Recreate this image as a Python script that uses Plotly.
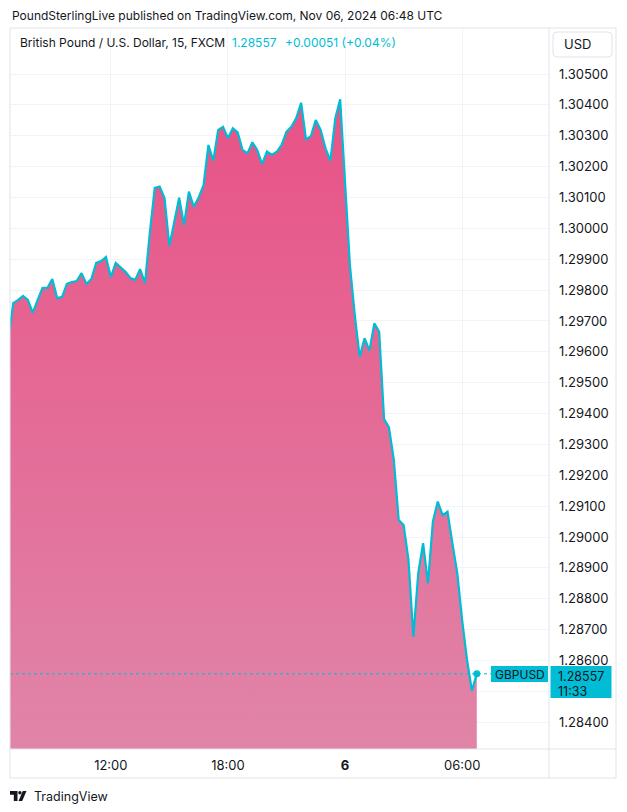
import plotly.graph_objects as go
import pandas as pd

# ---- data ----
prices = [
    1.29643,
    1.29758, 1.29768, 1.29781, 1.29768, 1.29727, 1.29768, 1.29807, 1.29807, 1.29836, 1.29774,
    1.29778, 1.29820, 1.29826, 1.29829, 1.29855, 1.29820, 1.29836, 1.29888, 1.29894, 1.29907,
    1.29842, 1.29888, 1.29875, 1.29859, 1.29839, 1.29833, 1.29868, 1.29823, 1.29988, 1.30131,
    1.30135, 1.30098, 1.29943, 1.30022, 1.30099, 1.30011, 1.30119, 1.30070, 1.30100, 1.30140,
    1.30270, 1.30219, 1.30319, 1.30329, 1.30292, 1.30324, 1.30311, 1.30254, 1.30243, 1.30279,
    1.30254, 1.30208, 1.30249, 1.30238, 1.30248, 1.30270, 1.30313, 1.30329, 1.30357, 1.30407,
    1.30288, 1.30299, 1.30351, 1.30319, 1.30259, 1.30219, 1.30357, 1.30418, 1.30140, 1.29881,
    1.29719, 1.29584, 1.29644, 1.29604, 1.29692, 1.29665, 1.29382, 1.29355, 1.29250, 1.29055,
    1.29039, 1.28926, 1.28677, 1.28883, 1.28980, 1.28850, 1.29050, 1.29115, 1.29071, 1.29082,
    1.28980, 1.28883, 1.28731, 1.28602, 1.28502, 1.28557,
]
start_time = "2024-11-05 06:45"
times = pd.date_range(start_time, periods=len(prices), freq="15min")

x_tick_vals = ["2024-11-05 12:00", "2024-11-05 18:00", "2024-11-06 00:00", "2024-11-06 06:00"]
x_tick_text = ["12:00", "18:00", "<b>6</b>", "06:00"]
y_tick_vals = [1.305, 1.304, 1.303, 1.302, 1.301, 1.300, 1.299, 1.298, 1.297, 1.296, 1.295,
               1.294, 1.293, 1.292, 1.291, 1.290, 1.289, 1.288, 1.287, 1.286, 1.285, 1.284]
y_tick_text = ["1.30500", "1.30400", "1.30300", "1.30200", "1.30100", "1.30000", "1.29900",
               "1.29800", "1.29700", "1.29600", "1.29500", "1.29400", "1.29300", "1.29200",
               "1.29100", "1.29000", "1.28900", "1.28800", "1.28700", "1.28600", "", "1.28400"]

last_price = prices[-1]
symbol = "GBPUSD"
title_text = "British Pound / U.S. Dollar, 15, FXCM"
price_text = "1.28557"
change_text = "+0.00051 (+0.04%)"
countdown = "11:33"

# ---- style ----
W, H = 627, 812
L, R, T, B = 10, 549, 28, 749  # plot area in px
CYAN = "rgb(0,188,212)"
TEXT = "#131722"
GRID = "#F0F3FA"
BORDER = "#E0E3EB"
FONT = "Inter, Roboto, sans-serif"


def px(x):
    return (x - L) / (R - L)


def py(y):
    return (B - y) / (B - T)


fig = go.Figure()
fig.add_trace(go.Scatter(
    x=times, y=prices, mode="lines",
    line=dict(color=CYAN, width=2.2),
    fill="tozeroy",
    fillgradient=dict(type="vertical",
                      colorscale=[[0, "rgb(224,133,168)"], [1, "rgb(232,82,134)"]],
                      start=1.2831, stop=1.3043),
    hoverinfo="skip", showlegend=False,
))
fig.add_trace(go.Scatter(
    x=[times[-1]], y=[last_price], mode="markers",
    marker=dict(color=CYAN, size=7), showlegend=False, hoverinfo="skip",
))

shapes = []
# dotted last price line
shapes.append(dict(type="line", xref="paper", yref="y", x0=0, x1=px(491), y0=last_price, y1=last_price,
                   line=dict(color=CYAN, width=1, dash="dot"), layer="above"))
# borders
shapes.append(dict(type="rect", xref="paper", yref="paper", x0=px(10), x1=px(616), y0=py(28), y1=py(778),
                   line=dict(color=BORDER, width=1)))
shapes.append(dict(type="line", xref="paper", yref="paper", x0=px(549), x1=px(549), y0=py(28), y1=py(778),
                   line=dict(color=BORDER, width=1)))
shapes.append(dict(type="line", xref="paper", yref="paper", x0=px(10), x1=px(616), y0=py(749), y1=py(749),
                   line=dict(color=BORDER, width=1)))


def rrect(x0, y0, x1, y1, r):
    p = (f"M{px(x0 + r)},{py(y0)} L{px(x1 - r)},{py(y0)} Q{px(x1)},{py(y0)} {px(x1)},{py(y0 + r)} "
         f"L{px(x1)},{py(y1 - r)} Q{px(x1)},{py(y1)} {px(x1 - r)},{py(y1)} "
         f"L{px(x0 + r)},{py(y1)} Q{px(x0)},{py(y1)} {px(x0)},{py(y1 - r)} "
         f"L{px(x0)},{py(y0 + r)} Q{px(x0)},{py(y0)} {px(x0 + r)},{py(y0)} Z")
    return p


shapes.append(dict(type="path", xref="paper", yref="paper", path=rrect(553, 32, 612, 57, 4),
                   line=dict(color=BORDER, width=1), fillcolor="white"))
# TradingView logo
logo1 = f"M{px(10)},{py(791)} L{px(17.5)},{py(791)} L{px(17.5)},{py(801)} L{px(13.8)},{py(801)} L{px(13.8)},{py(794.8)} L{px(10)},{py(794.8)} Z"
logo2 = f"M{px(18.5)},{py(801)} L{px(22.8)},{py(791)} L{px(26.5)},{py(791)} L{px(22.2)},{py(801)} Z"
shapes.append(dict(type="path", xref="paper", yref="paper", path=logo1, fillcolor=TEXT, line=dict(width=0)))
shapes.append(dict(type="path", xref="paper", yref="paper", path=logo2, fillcolor=TEXT, line=dict(width=0)))
shapes.append(dict(type="circle", xref="paper", yref="paper", x0=px(18.2), x1=px(21.6), y0=py(791), y1=py(794.6),
                   fillcolor=TEXT, line=dict(width=0)))
# last price label boxes (drawn as shapes; text as annotations)
shapes.append(dict(type="rect", xref="paper", yref="paper", x0=px(491), x1=px(548), y0=py(666), y1=py(682),
                   fillcolor=CYAN, line=dict(width=0), layer="above"))
shapes.append(dict(type="rect", xref="paper", yref="paper", x0=px(550.5), x1=px(611.5), y0=py(666), y1=py(698),
                   fillcolor=CYAN, line=dict(width=0), layer="above"))

annotations = [
    dict(text="PoundSterlingLive published on TradingView.com, Nov 06, 2024 06:48 UTC",
         xref="paper", yref="paper", x=px(10), y=py(15), xanchor="left", yanchor="middle",
         showarrow=False, font=dict(size=12, color=TEXT, family=FONT)),
    dict(text=title_text, xref="paper", yref="paper", x=px(18), y=py(43), xanchor="left", yanchor="middle",
         showarrow=False, font=dict(size=12, color=TEXT, family=FONT)),
    dict(text=price_text, xref="paper", yref="paper", x=px(230), y=py(43), xanchor="left", yanchor="middle",
         showarrow=False, font=dict(size=12, color=CYAN, family=FONT)),
    dict(text=change_text, xref="paper", yref="paper", x=px(283), y=py(43), xanchor="left", yanchor="middle",
         showarrow=False, font=dict(size=12, color=CYAN, family=FONT)),
    dict(text="USD", xref="paper", yref="paper", x=px(562), y=py(44), xanchor="left", yanchor="middle",
         showarrow=False, font=dict(size=13, color=TEXT, family=FONT)),
    dict(text=symbol, xref="paper", yref="paper", x=px(519.5), y=py(674), xanchor="center", yanchor="middle",
         showarrow=False, borderpad=0, font=dict(size=12, color=TEXT, family=FONT)),
    dict(text=price_text, xref="paper", yref="paper", x=px(557), y=py(676), xanchor="left", yanchor="middle",
         showarrow=False, borderpad=0, font=dict(size=12.5, color=TEXT, family=FONT)),
    dict(text=countdown, xref="paper", yref="paper", x=px(557), y=py(691.5), xanchor="left", yanchor="middle",
         showarrow=False, borderpad=0, font=dict(size=12.5, color=TEXT, family=FONT)),
    dict(text="TradingView", xref="paper", yref="paper", x=px(32), y=py(796), xanchor="left", yanchor="middle",
         showarrow=False, font=dict(size=12.5, color=TEXT, family=FONT)),
]

fig.update_layout(
    width=W, height=H,
    margin=dict(l=L, r=W - R, t=T, b=H - B, pad=0),
    paper_bgcolor="white", plot_bgcolor="white",
    font=dict(family=FONT, size=12, color=TEXT),
    shapes=shapes, annotations=annotations, showlegend=False,
    xaxis=dict(range=["2024-11-05 06:50", "2024-11-06 10:27"], tickvals=x_tick_vals, ticktext=x_tick_text,
               showgrid=True, gridcolor=GRID, gridwidth=1, zeroline=False, showline=False,
               ticks="", ticklabelstandoff=7, tickfont=dict(size=13, color=TEXT), fixedrange=True),
    yaxis=dict(range=[1.283134, 1.30649], side="right", tickvals=y_tick_vals, ticktext=y_tick_text,
               showgrid=True, gridcolor=GRID, gridwidth=1, zeroline=False, showline=False,
               ticks="", ticklabelstandoff=9, tickfont=dict(size=13, color=TEXT), fixedrange=True),
)

fig.write_html("out.html", post_script="document.body.style.margin='0';",
               config={"displayModeBar": False})
